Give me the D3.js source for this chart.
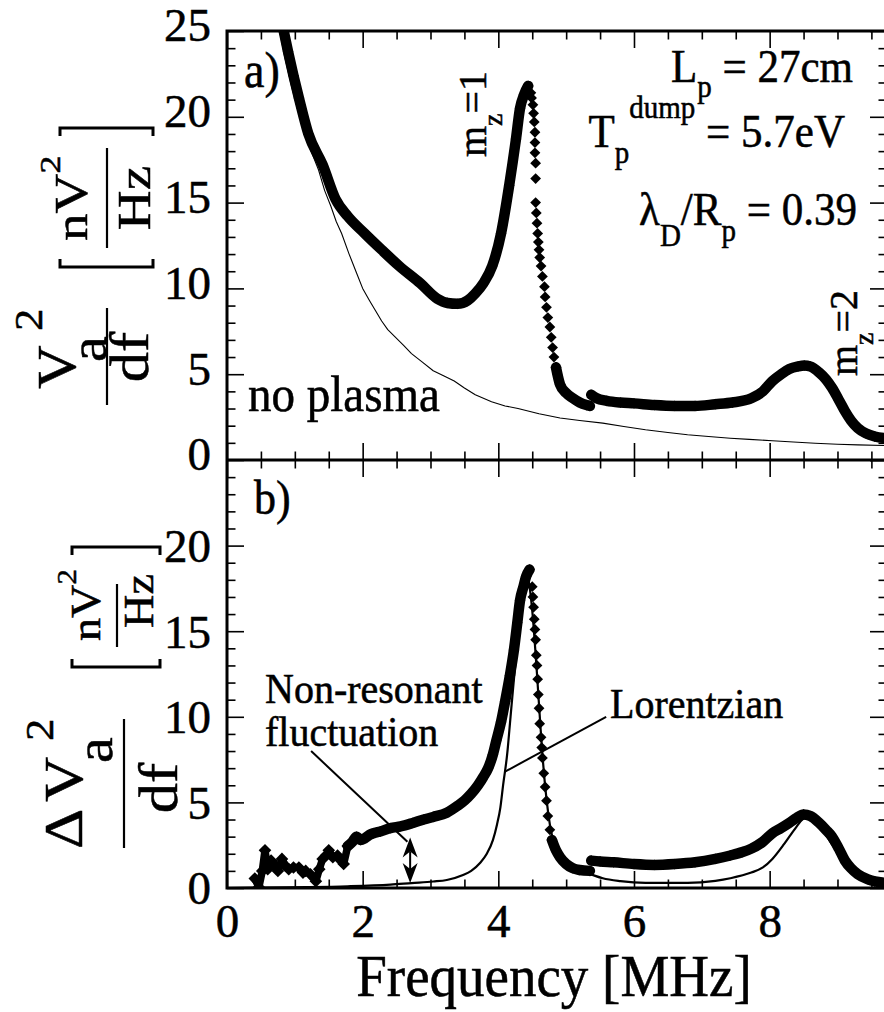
<!DOCTYPE html>
<html>
<head>
<meta charset="utf-8">
<script src="https://cdn.jsdelivr.net/npm/d3@7"></script>
<style>
  html, body { margin: 0; padding: 0; background: #fff; }
  svg { display: block; }
  text { font-family: "Liberation Serif", "Times New Roman", serif; fill: #000; stroke: #000; stroke-width: 0.5px; }
</style>
</head>
<body>
<svg id="chart" width="884" height="1012"></svg>
<script>
// ---------------- data ----------------
// Frequency axis (MHz)
const freqDomain = [0, 9.73];
const freqMajorTicks = [0, 2, 4, 6, 8];
const freqMinorTicks = [0.5, 1, 1.5, 2.5, 3, 3.5, 4.5, 5, 5.5, 6.5, 7, 7.5, 8.5, 9, 9.5];
// Spectral density axes (nV^2/Hz)
const densityDomain = [0, 25];
const topMajorTicks = [0, 5, 10, 15, 20, 25];
const bottomMajorTicks = [0, 5, 10, 15, 20];
const densityMinorTicks = [1, 2, 3, 4, 6, 7, 8, 9, 11, 12, 13, 14, 16, 17, 18, 19, 21, 22, 23, 24];

// Panel a) : antenna noise with plasma, [MHz, nV^2/Hz]
const plasmaRise = [[0.82,25.3],[0.9,23.8],[0.98,22.4],[1.06,21.1],[1.2,19.0],[1.41,17.2],[1.6,15.2],[1.78,14.2],[2.03,13.2],[2.28,12.25],[2.54,11.3],[2.85,10.3],[3.1,9.4],[3.25,9.15],[3.4,9.1],[3.55,9.3],[3.66,9.7],[3.78,10.3],[3.91,11.3],[4.04,13.2],[4.16,16.0],[4.26,18.7],[4.32,20.5],[4.38,21.3],[4.44,21.8]];
const plasmaFall = [[4.48,21.4],[4.49,21.1],[4.51,20.7],[4.52,20.2],[4.53,19.7],[4.54,19.1],[4.54,18.5],[4.54,17.9],[4.55,17.3],[4.55,16.4],[4.55,15.0],[4.56,14.4],[4.57,13.8],[4.58,13.2],[4.59,12.7],[4.6,12.25],[4.61,11.8],[4.63,11.3],[4.65,10.7],[4.68,10.1],[4.69,9.5],[4.71,8.9],[4.73,8.3],[4.76,7.75],[4.78,7.15],[4.8,6.55],[4.82,6.0],[4.85,5.4]];
const plasmaMid = [[4.85,5.4],[4.91,4.4],[5.0,3.9],[5.1,3.6],[5.2,3.35],[5.3,3.2],[5.35,3.15]];
const plasmaHigh = [[5.37,3.8],[5.45,3.6],[5.6,3.45],[5.8,3.35],[6.0,3.3],[6.3,3.2],[6.6,3.15],[6.9,3.15],[7.2,3.25],[7.45,3.35],[7.73,3.6],[7.9,4.0],[8.04,4.6],[8.17,5.0],[8.29,5.3],[8.42,5.45],[8.51,5.5],[8.6,5.45],[8.73,5.1],[8.83,4.7],[8.92,4.2],[9.02,3.5],[9.11,2.85],[9.2,2.3],[9.3,1.86],[9.42,1.55],[9.55,1.37],[9.73,1.27]];
// Panel a) : antenna noise without plasma
const noPlasma = [[0.76,25.3],[0.85,23.5],[0.95,21.8],[1.05,20.3],[1.2,18.4],[1.35,16.9],[1.44,15.7],[1.53,14.8],[1.61,13.9],[1.69,13.2],[1.8,12.0],[1.91,10.9],[2.0,10.0],[2.1,9.3],[2.19,8.7],[2.28,8.1],[2.37,7.6],[2.47,7.2],[2.6,6.7],[2.72,6.2],[2.88,5.7],[3.04,5.2],[3.2,4.9],[3.35,4.6],[3.5,4.2],[3.66,3.8],[3.9,3.4],[4.1,3.15],[4.29,3.0],[4.6,2.7],[4.91,2.45],[5.2,2.3],[5.54,2.15],[5.85,1.95],[6.17,1.76],[6.5,1.6],[6.79,1.47],[7.1,1.37],[7.42,1.27],[7.7,1.2],[8.04,1.12],[8.35,1.05],[8.67,0.98],[9.0,0.92],[9.3,0.88],[9.73,0.84]];

// Panel b) : difference spectrum
const deltaNoisy = [[0.41,0.55],[0.47,0.05],[0.52,1.0],[0.56,2.2],[0.6,1.1],[0.65,1.6],[0.69,1.4],[0.75,1.0],[0.81,1.7],[0.86,1.3],[0.91,1.1],[0.98,1.2],[1.06,1.2],[1.12,0.9],[1.16,1.0],[1.23,0.8],[1.31,0.4],[1.36,1.1],[1.41,1.7],[1.46,1.9],[1.5,2.2],[1.56,1.8],[1.63,1.9],[1.68,1.6],[1.72,1.4],[1.78,2.45]];
const deltaRise = [[1.78,2.45],[1.85,2.7],[1.91,3.0],[1.97,2.8],[2.03,2.9],[2.1,3.1],[2.16,3.2],[2.26,3.3],[2.41,3.5],[2.56,3.6],[2.74,3.8],[2.9,4.0],[3.04,4.15],[3.24,4.4],[3.4,4.8],[3.5,5.1],[3.6,5.5],[3.7,6.0],[3.78,6.5],[3.85,7.0],[3.92,7.8],[3.97,8.6],[4.04,9.7],[4.1,10.9],[4.17,12.4],[4.23,13.9],[4.28,15.5],[4.32,16.8],[4.37,17.6],[4.41,18.2],[4.46,18.6]];
const deltaFall = [[4.5,17.6],[4.51,17.0],[4.52,16.4],[4.53,15.7],[4.54,15.1],[4.55,14.5],[4.56,13.6],[4.57,13.0],[4.58,12.2],[4.59,11.3],[4.6,10.5],[4.61,9.6],[4.63,8.8],[4.64,8.2],[4.65,7.6],[4.67,6.7],[4.69,5.9],[4.71,5.1],[4.73,4.2],[4.76,3.4],[4.79,2.8]];
const deltaMid = [[4.79,2.8],[4.85,2.2],[4.91,1.8],[5.0,1.4],[5.1,1.15],[5.2,1.05],[5.35,1.0]];
const deltaHigh = [[5.37,1.6],[5.5,1.55],[5.7,1.5],[6.0,1.4],[6.3,1.35],[6.6,1.4],[6.9,1.5],[7.2,1.7],[7.42,1.9],[7.6,2.1],[7.73,2.3],[7.9,2.7],[8.04,3.2],[8.17,3.5],[8.29,3.8],[8.4,4.1],[8.5,4.3],[8.6,4.2],[8.73,3.8],[8.83,3.4],[8.92,3.0],[9.02,2.3],[9.11,1.6],[9.2,1.15],[9.3,0.8],[9.45,0.5],[9.55,0.38],[9.73,0.3]];
// Panel b) : Lorentzian fit
const lorentzFit = [[0,0.0],[0.5,0.02],[1.16,0.05],[1.78,0.1],[2.41,0.2],[2.72,0.29],[3.04,0.38],[3.24,0.47],[3.48,0.76],[3.6,1.0],[3.73,1.46],[3.83,2.0],[3.92,2.8],[3.98,3.7],[4.03,4.7],[4.07,6.0],[4.13,7.8],[4.18,10.0],[4.23,12.2],[4.28,14.3],[4.32,15.8],[4.36,17.2],[4.4,18.0],[4.43,18.2],[4.46,17.6],[4.5,16.2],[4.57,12.5],[4.62,9.5],[4.66,7.3],[4.71,5.2],[4.76,3.7],[4.83,2.5],[4.91,1.8],[5.05,1.35],[5.23,1.0],[5.4,0.75],[5.54,0.57],[5.8,0.4],[6.17,0.3],[6.79,0.3],[7.2,0.42],[7.42,0.57],[7.73,0.9],[7.9,1.2],[8.04,1.7],[8.2,2.5],[8.29,3.0],[8.4,3.6],[8.48,4.0],[8.58,4.15],[8.66,3.95],[8.73,3.65],[8.92,2.55],[9.11,1.5],[9.3,0.9],[9.45,0.7],[9.55,0.6],[9.73,0.5]];

// Annotation anchors in data units
const gapArrow = { f: 2.7, from: 0.29, to: 2.95 };
const nonResonantPointer = [[1.24, 8.0], [2.66, 2.7]];
const lorentzPointer = [[5.59, 10.0], [4.1, 6.8]];

// ---------------- layout ----------------
const W = 884, H = 1012;
const plotL = 227, plotR = 887, topY = 31, midY = 460, botY = 888;
const svg = d3.select("#chart");
svg.append("rect").attr("width", W).attr("height", H).attr("fill", "#fff");

const x = d3.scaleLinear().domain(freqDomain).range([plotL, plotR]);
const yA = d3.scaleLinear().domain(densityDomain).range([midY, topY]);
const yB = d3.scaleLinear().domain(densityDomain).range([botY, midY]);

const defs = svg.append("defs");
defs.append("clipPath").attr("id", "clipA").append("rect")
  .attr("x", plotL).attr("y", topY).attr("width", plotR - plotL).attr("height", midY - topY);
defs.append("clipPath").attr("id", "clipB").append("rect")
  .attr("x", plotL).attr("y", midY).attr("width", plotR - plotL).attr("height", botY - midY);

// ---------------- axes ----------------
const MAJ = 17, MIN = 8.5, TICK_W = 1.6;
function axisGroup(axis, tx, ty) {
  const g = svg.append("g").attr("transform", `translate(${tx},${ty})`).call(axis);
  g.select(".domain").remove();
  g.attr("font-family", null);
  g.selectAll(".tick line").attr("stroke", "#000").attr("stroke-width", TICK_W);
  g.selectAll(".tick text").attr("fill", "#000");
  return g;
}
const noLabel = () => "";

// x ticks: top edge (down), middle (both ways), bottom edge (up, labelled)
[[d3.axisTop, topY], [d3.axisTop, midY], [d3.axisBottom, midY]].forEach(([ax, yy]) => {
  axisGroup(ax(x).tickValues(freqMajorTicks).tickSize(-MAJ).tickFormat(noLabel), 0, yy);
  axisGroup(ax(x).tickValues(freqMinorTicks).tickSize(-MIN).tickFormat(noLabel), 0, yy);
});
const xLab = axisGroup(d3.axisBottom(x).tickValues(freqMajorTicks).tickSize(-MAJ).tickPadding(16).tickFormat(d3.format("d")), 0, botY);
xLab.selectAll(".tick text").attr("font-size", 47);
axisGroup(d3.axisBottom(x).tickValues(freqMinorTicks).tickSize(-MIN).tickFormat(noLabel), 0, botY);

// y ticks, left (labelled) and right edges, both panels
function yTicks(scale, labels, dyEm) {
  const l = axisGroup(d3.axisLeft(scale).tickValues(labels).tickSize(-MAJ).tickPadding(16).tickFormat(d3.format("d")), plotL, 0);
  l.selectAll(".tick text").attr("font-size", 47).attr("dy", dyEm);
  axisGroup(d3.axisLeft(scale).tickValues(densityMinorTicks).tickSize(-MIN).tickFormat(noLabel), plotL, 0);
  axisGroup(d3.axisRight(scale).tickValues(topMajorTicks).tickSize(-MAJ).tickFormat(noLabel), plotR, 0);
  axisGroup(d3.axisRight(scale).tickValues(densityMinorTicks).tickSize(-MIN).tickFormat(noLabel), plotR, 0);
}
yTicks(yA, topMajorTicks, "0.21em");
yTicks(yB, bottomMajorTicks, "0.34em");

// frame
const frame = svg.append("g").attr("stroke", "#000").attr("stroke-width", 3).attr("fill", "none");
frame.append("rect").attr("x", plotL).attr("y", topY).attr("width", plotR - plotL).attr("height", botY - topY);
frame.append("line").attr("x1", plotL).attr("x2", plotR).attr("y1", midY).attr("y2", midY);

// ---------------- series ----------------
const diamond = d3.symbol().type(d3.symbolSquare).size(58);
function markers(g, data, yScale, sym) {
  g.selectAll(null).data(data).enter().append("path")
    .attr("d", sym || diamond)
    .attr("transform", d => `translate(${x(d[0])},${yScale(d[1])}) rotate(45)`)
    .attr("fill", "#000");
}
function band(g, data, yScale, curve, width, sym) {
  g.append("path").datum(data)
    .attr("d", d3.line().x(d => x(d[0])).y(d => yScale(d[1])).curve(curve || d3.curveMonotoneX))
    .attr("fill", "none").attr("stroke", "#000").attr("stroke-width", width || 10.5)
    .attr("stroke-linejoin", "round").attr("stroke-linecap", "round");
  markers(g, data, yScale, sym);
}
function thinLine(g, data, yScale, width, curve) {
  g.append("path").datum(data)
    .attr("d", d3.line().x(d => x(d[0])).y(d => yScale(d[1])).curve(curve))
    .attr("fill", "none").attr("stroke", "#000").attr("stroke-width", width).attr("stroke-linejoin", "round");
}

const gA = svg.append("g").attr("clip-path", "url(#clipA)");
thinLine(gA, noPlasma, yA, 1.1, d3.curveLinear);
band(gA, plasmaRise, yA);
markers(gA, plasmaFall, yA);
band(gA, plasmaMid, yA);
band(gA, plasmaHigh, yA);

const gB = svg.append("g").attr("clip-path", "url(#clipB)");
thinLine(gB, lorentzFit, yB, 2.2, d3.curveMonotoneX);
band(gB, deltaNoisy, yB, d3.curveLinear, 7.5, d3.symbol().type(d3.symbolSquare).size(80));
band(gB, deltaRise, yB);
markers(gB, deltaFall, yB);
band(gB, deltaMid, yB);
band(gB, deltaHigh, yB);

// ---------------- annotations ----------------
const ann = svg.append("g");
// pointer lines
[nonResonantPointer, lorentzPointer].forEach(p => {
  ann.append("line")
    .attr("x1", x(p[0][0])).attr("y1", yB(p[0][1]))
    .attr("x2", x(p[1][0])).attr("y2", yB(p[1][1]))
    .attr("stroke", "#000").attr("stroke-width", 2);
});
// double-headed arrow between the fit and the measured spectrum
(function () {
  const ax = x(gapArrow.f), yTop = yB(gapArrow.to), yBot = yB(gapArrow.from);
  const hl = 20, hw = 7.5, notch = 14;
  ann.append("line").attr("x1", ax).attr("x2", ax).attr("y1", yTop + notch).attr("y2", yBot - notch)
    .attr("stroke", "#000").attr("stroke-width", 2);
  const head = (tipY, dir) => `M${ax},${tipY} L${ax + hw},${tipY + dir * hl} L${ax},${tipY + dir * notch} L${ax - hw},${tipY + dir * hl} Z`;
  ann.append("path").attr("d", head(yTop, 1)).attr("fill", "#000");
  ann.append("path").attr("d", head(yBot, -1)).attr("fill", "#000");
})();

// text with sub/superscripts: parts = [{t, size, shift}]
function rich(parent, parts, o) {
  const t = parent.append("text")
    .attr("x", 0).attr("y", 0)
    .attr("font-size", o.size)
    .attr("text-anchor", o.anchor || "start")
    .attr("transform", o.transform || `translate(${o.x},${o.y}) scale(1,${o.sy || 1.08})`);
  let cur = 0;
  parts.forEach(p => {
    const s = t.append("tspan").text(p.t);
    const sh = p.shift || 0;
    if (sh !== cur) { s.attr("dy", sh - cur); cur = sh; }
    if (p.size) s.attr("font-size", p.size);
  });
  return t;
}
const rot = (px, py, sy) => `translate(${px},${py}) scale(1,${sy || 1}) rotate(-90)`;

// panel letters
rich(ann, [{ t: "a)" }], { x: 244, y: 87, size: 46 });
rich(ann, [{ t: "b)" }], { x: 254, y: 514, size: 44 });

// plasma parameters
rich(ann, [{ t: "L" }, { t: "p", size: 29, shift: 14 }, { t: " = 27cm", shift: 0 }],
  { x: 853, y: 82, size: 43, anchor: "end" });
rich(ann, [{ t: "T" }, { t: "p", size: 29, shift: 15 }, { t: "dump", size: 29, shift: -27 }, { t: " = 5.7eV", shift: 0 }],
  { x: 845, y: 147, size: 43, anchor: "end" });
rich(ann, [{ t: "λ" }, { t: "D", size: 29, shift: 19 }, { t: "/R", shift: 0 }, { t: "p", size: 29, shift: 15 }, { t: " = 0.39", shift: 0 }],
  { x: 857, y: 225, size: 43, anchor: "end" });

// mode labels
rich(ann, [{ t: "m" }, { t: "z", size: 28, shift: 16 }, { t: "=1", shift: 0 }], { size: 40, transform: rot(486, 157) });
rich(ann, [{ t: "m" }, { t: "z", size: 28, shift: 16 }, { t: "=2", shift: 0 }], { size: 40, transform: rot(857, 376) });

rich(ann, [{ t: "no plasma" }], { x: 248, y: 411, size: 47 });
rich(ann, [{ t: "Non-resonant" }], { x: 265, y: 703, size: 40 });
rich(ann, [{ t: "fluctuation" }], { x: 265, y: 746, size: 40 });
rich(ann, [{ t: "Lorentzian" }], { x: 610, y: 718, size: 40 });

// x axis title
rich(ann, [{ t: "Frequency [MHz]" }], { x: 554, y: 996, size: 55, anchor: "middle", sy: 1.08 });

// ---------------- y axis titles ----------------
const ttl = svg.append("g");
function vbar(x0, y0, y1, w) {
  ttl.append("line").attr("x1", x0).attr("x2", x0).attr("y1", y0).attr("y2", y1)
    .attr("stroke", "#000").attr("stroke-width", w || 2.2);
}
function bracketPair(x0, x1, yClose, yOpen, hook) {
  ttl.append("path").attr("d", `M${x0},${yClose + hook} V${yClose} H${x1} V${yClose + hook}`)
    .attr("fill", "none").attr("stroke", "#000").attr("stroke-width", 3);
  ttl.append("path").attr("d", `M${x0},${yOpen - hook} V${yOpen} H${x1} V${yOpen - hook}`)
    .attr("fill", "none").attr("stroke", "#000").attr("stroke-width", 3);
}

// top: V_a^2 / df  [nV^2 / Hz]
vbar(107, 308, 405);
rich(ttl, [{ t: "V" }], { size: 54, transform: rot(75, 389, 1.12) });
rich(ttl, [{ t: "2" }], { size: 40, transform: rot(42, 331, 1.12) });
rich(ttl, [{ t: "a" }], { size: 52, transform: rot(106, 362, 1.12) });
rich(ttl, [{ t: "df" }], { size: 54, anchor: "middle", transform: rot(148, 357, 1.12) });
bracketPair(60, 153, 128, 267, 8);
vbar(107, 148, 248);
rich(ttl, [{ t: "nV" }, { t: "2", size: 30, shift: -27 }], { size: 46, transform: rot(87, 241, 1.2) });
rich(ttl, [{ t: "Hz" }], { size: 46, anchor: "middle", transform: rot(150, 198, 1.2) });

// bottom: ΔV_a^2 / df  [nV^2 / Hz]
vbar(124, 719, 848);
rich(ttl, [{ t: "Δ" }], { size: 56, transform: rot(82, 849, 1.12) });
rich(ttl, [{ t: "V" }], { size: 56, transform: rot(82, 802, 1.12) });
rich(ttl, [{ t: "2" }], { size: 40, transform: rot(53, 741, 1.12) });
rich(ttl, [{ t: "a" }], { size: 52, transform: rot(112, 763, 1.12) });
rich(ttl, [{ t: "df" }], { size: 54, anchor: "middle", transform: rot(177, 788, 1.12) });
bracketPair(72, 160, 547, 667, 8);
vbar(117, 584, 647);
rich(ttl, [{ t: "nV" }, { t: "2", size: 28, shift: -24 }], { size: 42, transform: rot(100, 641, 1.1) });
rich(ttl, [{ t: "Hz" }], { size: 42, anchor: "middle", transform: rot(153, 601, 1.1) });
</script>
</body>
</html>
